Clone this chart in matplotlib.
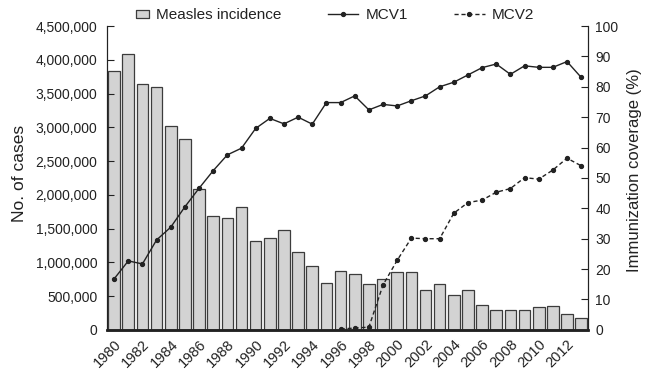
import numpy as np
import matplotlib
matplotlib.use("Agg")
import matplotlib.pyplot as plt
from matplotlib.lines import Line2D
from matplotlib.ticker import FuncFormatter

plt.rcParams['font.family'] = ['Liberation Sans', 'DejaVu Sans']

years = list(range(1980, 2014))
# measles cases per year
cases = [3840000, 4085000, 3640000, 3590000, 3020000, 2830000, 2080000, 1690000,
         1650000, 1820000, 1310000, 1360000, 1480000, 1155000, 940000, 700000,
         873000, 824000, 686000, 760000, 854000, 854000, 587000, 686000,
         513000, 587000, 365000, 290000, 290000, 290000, 340000, 350000,
         232000, 180000]
# coverage in percent
mcv1 = [16.8, 22.7, 21.7, 29.6, 33.8, 40.5, 46.6, 52.4, 57.6, 59.8,
        66.3, 69.6, 67.8, 70.0, 67.7, 74.8, 74.8, 77.0, 72.4, 74.2,
        73.7, 75.4, 77.0, 80.0, 81.5, 83.9, 86.3, 87.5, 84.1, 86.9,
        86.4, 86.4, 88.3, 83.1]
mcv2_years = list(range(1996, 2014))
mcv2 = [0.3, 0.6, 0.9, 14.8, 22.9, 30.2, 30.0, 30.0, 38.4, 41.9,
        42.7, 45.3, 46.5, 50.1, 49.6, 52.6, 56.5, 54.0]

tick_years = list(range(1980, 2013, 2))

fig = plt.figure(figsize=(6.45, 3.77), dpi=100)
ax1 = fig.add_axes([0.166, 0.125, 0.746, 0.806])
ax2 = ax1.twinx()

x = np.arange(len(years))
bars = ax1.bar(x, cases, width=0.82, color='#d3d3d3', edgecolor='#3c3c3c', linewidth=0.9)
ax1.set_xlim(-0.5, len(years) - 0.5)
ax1.set_ylim(0, 4500000)
ax1.set_yticks(np.arange(0, 4500001, 500000))
ax1.yaxis.set_major_formatter(FuncFormatter(lambda v, p: f"{int(v):,}"))
ax1.set_ylabel("No. of cases", fontsize=12.5, color='#222222')
ax1.yaxis.set_label_coords(-0.167, 0.516)

ax1.set_xticks([years.index(y) for y in tick_years])
ax1.set_xticklabels([str(y) for y in tick_years], rotation=45, ha='right',
                    va='top', rotation_mode='anchor')
ax1.tick_params(axis='x', length=0, labelsize=10.5, pad=5, labelcolor='#222222')
ax1.tick_params(axis='y', direction='in', length=5, labelsize=10, pad=7,
                labelcolor='#222222', color='#222222')

# lines for coverage
x2 = [years.index(y) for y in mcv2_years]
ax2.plot(x, mcv1, color='#222222', linewidth=1.0, marker='o', markersize=2.8)
ax2.plot(x2, mcv2, color='#222222', linewidth=1.0, linestyle=(0, (3, 2)),
         marker='o', markersize=2.8)
ax2.set_ylim(0, 100)
ax2.set_yticks(np.arange(0, 101, 10))
ax2.set_ylabel("Immunization coverage (%)", fontsize=12, color='#222222')
ax2.yaxis.set_label_coords(1.081, 0.525)
ax2.tick_params(axis='y', direction='in', length=5, labelsize=10, pad=5,
                labelcolor='#222222', color='#222222')

for ax in (ax1, ax2):
    ax.spines['top'].set_visible(False)
    ax.spines['left'].set_color('#222222')
    ax.spines['right'].set_color('#222222')
    ax.spines['bottom'].set_linewidth(1.8)
    ax.spines['bottom'].set_color('#222222')

# small box sitting near the text, like the original legend
box = [(0.78, -1), (4.18, -1), (4.18, 1), (0.78, 1), (0.78, -1)]
handles = [
    Line2D([], [], linestyle='none', marker=box, markersize=23,
           markerfacecolor='#d3d3d3', markeredgecolor='#3c3c3c', markeredgewidth=0.9),
    Line2D([], [], color='#222222', linewidth=1.0, marker='o', markersize=2.8),
    Line2D([], [], color='#222222', linewidth=1.0, linestyle=(0, (3, 2)),
           marker='o', markersize=2.8),
]
fig.legend(handles, ["Measles incidence", "MCV1", "MCV2"], loc='center',
           bbox_to_anchor=(0.506, 0.96), ncol=3, frameon=False, fontsize=11,
           handlelength=2.0, columnspacing=3.0, handletextpad=0.5,
           labelcolor='#222222')

fig.savefig("out.png", dpi=100)
